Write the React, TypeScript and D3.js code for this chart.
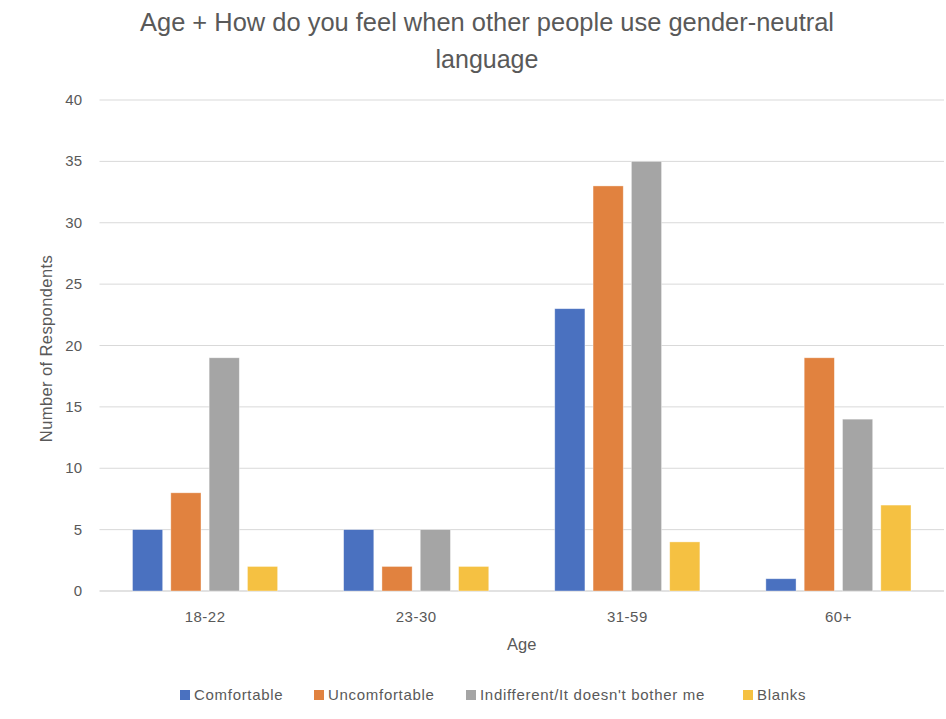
import React from "react";
import * as d3 from "d3";

const categories = ["18-22", "23-30", "31-59", "60+"];
const seriesNames = ["Comfortable", "Uncomfortable", "Indifferent/It doesn't bother me", "Blanks"];
const comfortable = [5, 5, 23, 1];
const uncomfortable = [8, 2, 33, 19];
const indifferent = [19, 5, 35, 14];
const blanks = [2, 2, 4, 7];
const yTicks = [0, 5, 10, 15, 20, 25, 30, 35, 40];
const colors = ["#4A71C0", "#E1823F", "#A5A5A5", "#F5C142"];

const W = 946;
const H = 719;
const left = 99.5;
const right = 944;
const top = 100;
const bottom = 591;
const FONT = "'Liberation Sans', Arial, sans-serif";
const TXT = "#595959";

export default function App() {
  const series = [comfortable, uncomfortable, indifferent, blanks];
  const x = d3.scaleBand<string>().domain(categories).range([left, right]).padding(0);
  const y = d3.scaleLinear().domain([0, 40]).range([bottom, top]);
  const bw = x.bandwidth();
  const barW = bw * 0.143;
  const step = bw * 0.1815;
  const groupW = step * 3 + barW;

  const legendX = [180, 314, 466, 743];

  return (
    <svg width={W} height={H} style={{ position: "absolute", left: 0, top: 0, background: "#fff" }}>
      <rect x={0} y={0} width={W} height={H} fill="#fff" />
      <text x={487} y={31} textAnchor="middle" fontFamily={FONT} fontSize={25} fill={TXT} textLength={694} lengthAdjust="spacingAndGlyphs">
        Age + How do you feel when other people use gender-neutral
      </text>
      <text x={487} y={68} textAnchor="middle" fontFamily={FONT} fontSize={25} fill={TXT}>
        language
      </text>
      {yTicks.map((t) => (
        <g key={t}>
          <line x1={left} x2={right} y1={y(t)} y2={y(t)} stroke="#D9D9D9" strokeWidth={t === 0 ? 1.5 : 1} />
          <text x={82} y={y(t) + 5} textAnchor="end" fontFamily={FONT} fontSize={15} fill={TXT}>
            {t}
          </text>
        </g>
      ))}
      {categories.map((c, i) => {
        const cx = (x(c) as number) + bw / 2;
        const gx = cx - groupW / 2;
        return (
          <g key={c}>
            {series.map((s, k) => (
              <rect
                key={k}
                x={gx + k * step}
                y={y(s[i])}
                width={barW}
                height={y(0) - y(s[i])}
                fill={colors[k]}
                stroke="#fff"
                strokeOpacity={0.5}
                strokeWidth={0.75}
              />
            ))}
            <text x={cx} y={622} textAnchor="middle" fontFamily={FONT} fontSize={15} fill={TXT} letterSpacing={0.5}>
              {c}
            </text>
          </g>
        );
      })}
      <text x={(left + right) / 2} y={650} textAnchor="middle" fontFamily={FONT} fontSize={16.5} fill={TXT}>
        Age
      </text>
      <text
        transform={`translate(52, ${(top + bottom) / 2 + 3}) rotate(-90)`}
        textAnchor="middle"
        fontFamily={FONT}
        fontSize={16.5}
        fill={TXT}
        letterSpacing={0.4}
      >
        Number of Respondents
      </text>
      {seriesNames.map((n, k) => (
        <g key={n}>
          <rect x={legendX[k]} y={690} width={10} height={10} fill={colors[k]} />
          <text x={legendX[k] + 14} y={700} fontFamily={FONT} fontSize={15} fill={TXT} letterSpacing={0.7}>
            {n}
          </text>
        </g>
      ))}
    </svg>
  );
}
